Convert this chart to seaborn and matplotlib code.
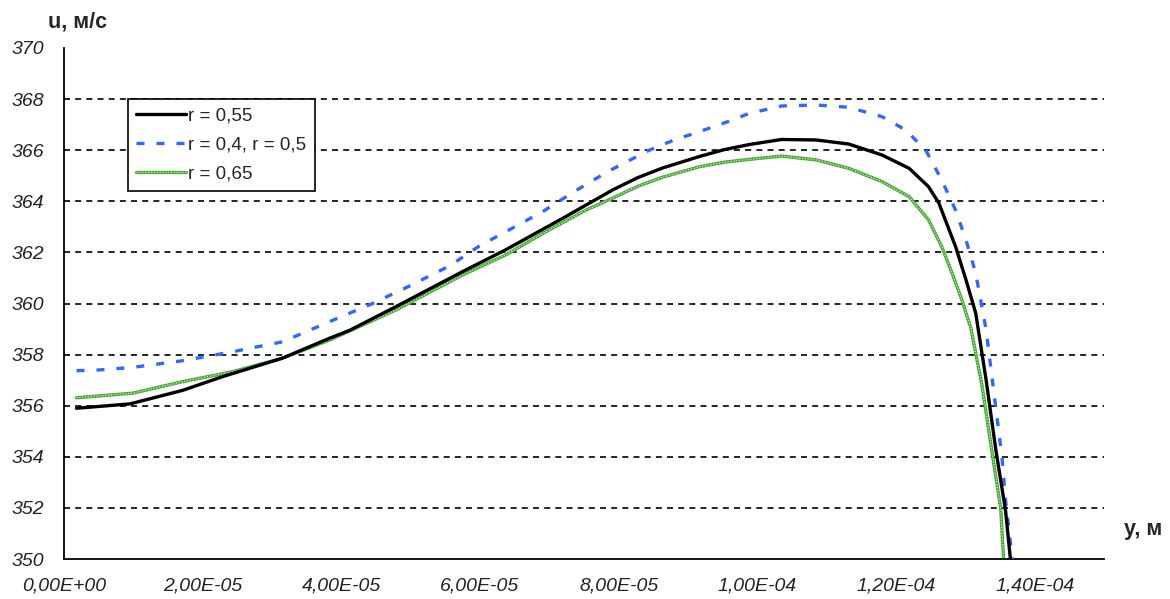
import numpy as np
import pandas as pd
import matplotlib
matplotlib.use("Agg")
import matplotlib.pyplot as plt
from matplotlib.ticker import FuncFormatter
import seaborn as sns

# Velocity profiles u(y) for three values of r; y given in units of 1e-5 m
y_r055 = [0.18, 0.95, 1.71, 2.29, 3.15, 3.83, 4.12, 4.79, 5.75, 6.37, 7.19, 7.91,
          8.27, 8.63, 9.16, 9.52, 9.88, 10.35, 10.85, 11.32, 11.80, 12.19, 12.47,
          12.62, 12.86, 13.01, 13.15, 13.30, 13.44, 13.58, 13.65]
u_r055 = [355.90, 356.07, 356.60, 357.14, 357.86, 358.64, 358.95, 359.88, 361.25,
          362.10, 363.33, 364.44, 364.92, 365.30, 365.75, 366.02, 366.22, 366.42,
          366.40, 366.24, 365.81, 365.29, 364.57, 363.92, 362.22, 360.92, 359.62,
          357.00, 354.27, 351.90, 350.00]

y_r04 = [0.18, 0.51, 0.99, 1.71, 2.43, 3.15, 3.83, 4.45, 4.98, 5.56, 5.99, 6.42,
         6.90, 7.36, 7.84, 8.44, 8.80, 9.16, 9.64, 9.88, 10.35, 10.85, 11.32, 11.80,
         12.14, 12.43, 12.66, 12.86, 13.01, 13.15, 13.24, 13.30, 13.53, 13.58, 13.66,
         13.69]
u_r04 = [357.37, 357.40, 357.50, 357.76, 358.11, 358.50, 359.29, 360.00, 360.68,
         361.47, 362.25, 362.88, 363.59, 364.38, 365.16, 366.00, 366.40, 366.72,
         367.18, 367.44, 367.73, 367.77, 367.68, 367.31, 366.79, 366.00, 364.83,
         363.65, 362.48, 361.18, 359.87, 358.96, 353.95, 352.30, 350.40, 349.80]

y_r065 = [0.18, 0.99, 1.71, 2.43, 3.15, 3.83, 4.79, 5.75, 6.37, 6.95, 7.53, 7.91,
          8.27, 8.63, 9.16, 9.52, 9.88, 10.35, 10.85, 11.32, 11.80, 12.19, 12.47,
          12.66, 12.81, 12.95, 13.08, 13.24, 13.38, 13.51, 13.55]
u_r065 = [356.31, 356.49, 356.94, 357.33, 357.86, 358.57, 359.75, 361.12, 361.90,
          362.81, 363.66, 364.12, 364.58, 364.94, 365.35, 365.53, 365.64, 365.77,
          365.62, 365.29, 364.77, 364.18, 363.27, 362.22, 361.18, 360.14, 359.03,
          356.80, 354.27, 351.98, 350.09]

labels = ["r = 0,55", "r = 0,4, r = 0,5", "r = 0,65"]
x_ticks = [0, 2e-5, 4e-5, 6e-5, 8e-5, 1e-4, 1.2e-4, 1.4e-4]
y_ticks = [350, 352, 354, 356, 358, 360, 362, 364, 366, 368, 370]

sns.set_style("white")
plt.rcParams["font.family"] = ["Liberation Sans", "DejaVu Sans"]


def frame(ys, us):
    return pd.DataFrame({"y": np.array(ys) * 1e-5, "u": us})


fig = plt.figure(figsize=(11.7, 5.99), dpi=100)
ax = fig.add_axes([64 / 1170, 1 - 559 / 599, (1104 - 64) / 1170, (559 - 48) / 599])

l_black = sns.lineplot(data=frame(y_r055, u_r055), x="y", y="u", ax=ax, sort=False,
                       estimator=None, color="black", lw=2.4, zorder=4).lines[-1]
l_blue = sns.lineplot(data=frame(y_r04, u_r04), x="y", y="u", ax=ax, sort=False,
                      estimator=None, color="#3366ff", lw=2.4, zorder=3).lines[-1]
l_blue.set_dashes((2.4, 3.6))
l_green = sns.lineplot(data=frame(y_r065, u_r065), x="y", y="u", ax=ax, sort=False,
                       estimator=None, color="#4aa83a", lw=2.4, zorder=3).lines[-1]
l_green_tex = sns.lineplot(data=frame(y_r065, u_r065), x="y", y="u", ax=ax, sort=False,
                           estimator=None, color="#c9efc0", lw=0.9, zorder=3.5).lines[-1]
l_green_tex.set_dashes((1.0, 1.3))

ax.set_xlim(0, 1.5e-4)
ax.set_ylim(350, 370)
ax.set_xticks(x_ticks)
ax.set_yticks(y_ticks)
ax.xaxis.set_major_formatter(FuncFormatter(lambda v, p: f"{v:.2E}".replace(".", ",")))
ax.yaxis.set_major_formatter(FuncFormatter(lambda v, p: f"{v:.0f}"))
for t in ax.get_xticklabels() + ax.get_yticklabels():
    t.set_fontstyle("italic")
    t.set_fontsize(14)
    t.set_color("#222222")
ax.tick_params(axis="x", direction="out", length=5, width=1.2, pad=8, color="black")
ax.tick_params(axis="y", direction="out", length=4.5, width=1.2, pad=10, color="black")
ax.set_xlabel("")
ax.set_ylabel("")

ax.grid(axis="y", color="black", lw=1.2, linestyle=(0, (3.6, 3.1)))
ax.grid(axis="x", visible=False)
ax.get_ygridlines()[-1].set_visible(False)
ax.get_ygridlines()[0].set_visible(False)
for side in ("top", "right"):
    ax.spines[side].set_visible(False)
for side in ("left", "bottom"):
    ax.spines[side].set_color("black")
    ax.spines[side].set_linewidth(1.3)
ax.set_axisbelow(True)

leg = ax.legend([l_black, l_blue, (l_green, l_green_tex)], labels,
                loc="upper left", bbox_to_anchor=(0.0615, 0.900), borderaxespad=0,
                fontsize=13.6, handlelength=2.6, handletextpad=0.15, labelspacing=0.62,
                borderpad=0.45, fancybox=False, framealpha=1, edgecolor="black")
leg.get_frame().set_linewidth(1.2)

fig.text(48 / 1170, 1 - 22 / 599, "u, м/с", fontsize=15.5, fontweight="bold",
         va="center", ha="left")
fig.text(1124 / 1170, 1 - 530 / 599, "y, м", fontsize=15.5, fontweight="bold",
         va="center", ha="left")

fig.savefig("out.png", dpi=100)
